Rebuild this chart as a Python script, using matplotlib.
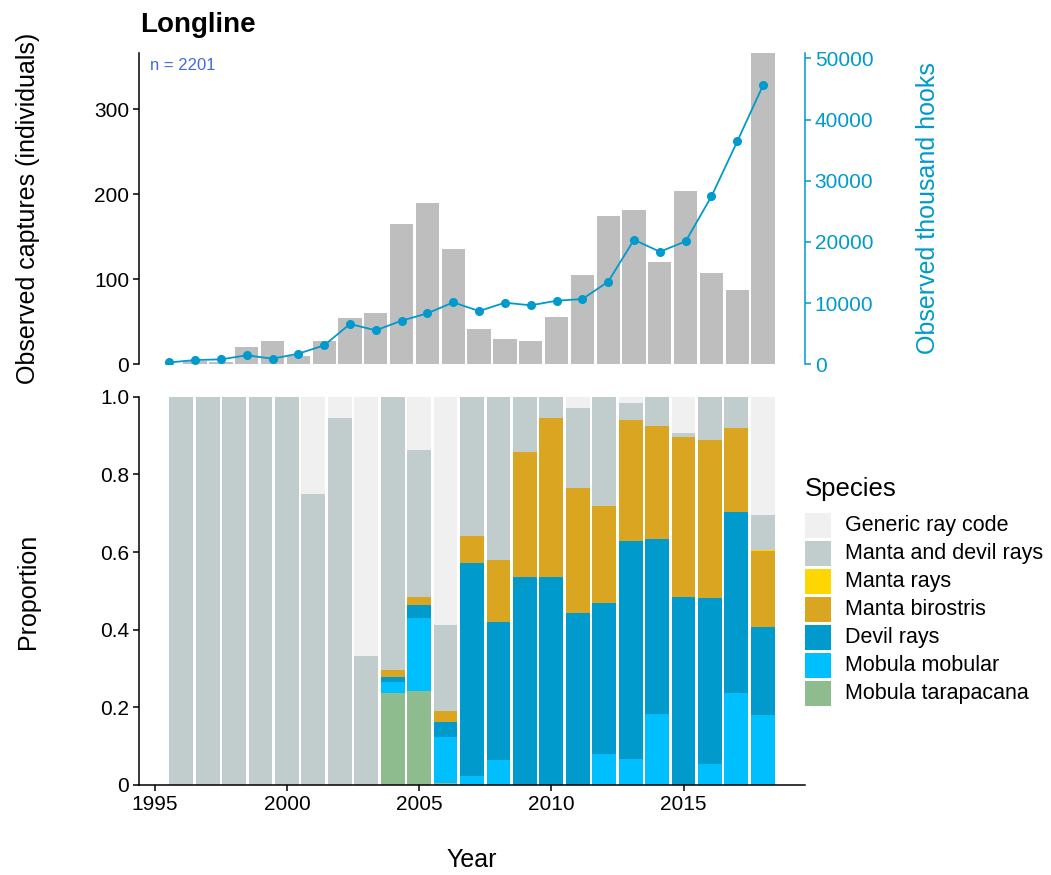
import numpy as np
import matplotlib
matplotlib.use('Agg')
import matplotlib.pyplot as plt
from matplotlib.patches import Rectangle

plt.rcParams['font.family'] = ['Liberation Sans', 'DejaVu Sans']

# top panel: captures and effort
effort_years = list(range(1995, 2019))
hooks = [300, 700, 800, 1470, 920, 1730, 3100, 6590, 5550, 7130, 8330, 10130,
         8700, 10070, 9640, 10390, 10670, 13500, 20360, 18400, 20100, 27450, 36440, 45640]
years = list(range(1996, 2019))
captures = [4, 3, 20, 28, 10, 28, 54, 60, 165, 190, 136, 42, 30, 28, 56, 105,
            175, 181, 120, 204, 108, 88, 366]

# bottom panel: proportions per species, years 1996-2018
species = ['Generic ray code', 'Manta and devil rays', 'Manta rays', 'Manta birostris',
           'Devil rays', 'Mobula mobular', 'Mobula tarapacana']
colors = ['#F0F0F0', '#C1CDCD', '#FFD700', '#DAA520', '#009ACD', '#00BFFF', '#8FBC8F']
p_tarapacana = [0, 0, 0, 0, 0, 0, 0, 0, 0.236, 0.242, 0.006, 0, 0, 0, 0, 0, 0, 0, 0, 0, 0, 0, 0]
p_mobular = [0, 0, 0, 0, 0, 0, 0, 0, 0.029, 0.189, 0.118, 0.023, 0.064, 0, 0, 0, 0.079,
             0.066, 0.183, 0, 0.055, 0.238, 0.180]
p_devil = [0, 0, 0, 0, 0, 0, 0, 0, 0.012, 0.032, 0.037, 0.548, 0.355, 0.536, 0.536, 0.443,
           0.390, 0.563, 0.450, 0.485, 0.426, 0.466, 0.227]
p_birostris = [0, 0, 0, 0, 0, 0, 0, 0, 0.019, 0.021, 0.030, 0.070, 0.160, 0.321, 0.409,
               0.321, 0.249, 0.310, 0.292, 0.412, 0.408, 0.216, 0.196]
p_manta = [0, 0, 0, 0, 0, 0, 0, 0, 0, 0, 0, 0, 0, 0, 0, 0, 0, 0, 0, 0, 0, 0, 0.003]
p_mantadevil = [1, 1, 1, 1, 1, 0.75, 0.944, 0.333, 0.704, 0.379, 0.220, 0.359, 0.421,
                0.143, 0.055, 0.207, 0.282, 0.044, 0.075, 0.009, 0.111, 0.080, 0.089]
p_generic = [0, 0, 0, 0, 0, 0.25, 0.056, 0.667, 0, 0.137, 0.589, 0, 0, 0, 0, 0.029,
             0, 0.017, 0, 0.094, 0, 0, 0.305]

hook_col = '#009ACD'
W, H = 1051, 875
fig = plt.figure(figsize=(W / 100, H / 100), dpi=100)

def box(l, t, r, b):
    return [l / W, 1 - b / H, (r - l) / W, (b - t) / H]

ax1 = fig.add_axes(box(139, 53.3, 805, 364.3))
ax2 = fig.add_axes(box(139, 396.7, 805, 785))

# top panel
ax1.bar(years, captures, width=0.9, color='#BEBEBE', zorder=2)
span = (max(years) + 0.45) - min(effort_years)
ax1.set_xlim(min(effort_years) - 0.05 * span, max(years) + 0.45 + 0.05 * span)
ax1.set_ylim(0, max(captures))
ax1.set_yticks([0, 100, 200, 300])
ax1.set_xticks([])
for s in ['top', 'right', 'bottom']:
    ax1.spines[s].set_visible(False)

tw = ax1.twinx()
tw.plot(effort_years, hooks, color=hook_col, lw=1.3, marker='o', ms=5.5)
tw.set_ylim(0, max(captures) * 50000 / 360)
tw.set_yticks(range(0, 50001, 10000))
for s in ['top', 'left', 'bottom']:
    tw.spines[s].set_visible(False)
tw.spines['right'].set_color(hook_col)
tw.spines['right'].set_linewidth(1.1)
tw.tick_params(axis='y', colors=hook_col, labelsize=15, length=4, width=1.1, pad=3)

# bottom panel
stack = [p_tarapacana, p_mobular, p_devil, p_birostris, p_manta, p_mantadevil, p_generic]
bottom = np.zeros(len(years))
for vals, col in zip(stack, colors[::-1]):
    ax2.bar(years, vals, bottom=bottom, width=0.9, color=col, zorder=2)
    bottom += np.array(vals)
span2 = (max(years) + 0.45) - (min(years) - 0.45)
ax2.set_xlim(min(years) - 0.45 - 0.05 * span2, max(years) + 0.45 + 0.05 * span2)
ax2.set_ylim(0, 1)
ax2.set_xticks([1995, 2000, 2005, 2010, 2015])
ax2.set_yticks([0, 0.2, 0.4, 0.6, 0.8, 1.0])
ax2.set_yticklabels(['0', '0.2', '0.4', '0.6', '0.8', '1.0'])
for s in ['top', 'right']:
    ax2.spines[s].set_visible(False)

for a in [ax1, ax2]:
    for s in ['left', 'bottom']:
        a.spines[s].set_linewidth(1.1)
    a.tick_params(labelsize=15, length=4, width=1.1, pad=3)

fig.text(140 / W, 1 - 25 / H, 'Longline', fontsize=20, fontweight='bold', va='center')
fig.text(150 / W, 1 - 65 / H, 'n = 2201', fontsize=12, color='#4169E1', va='center')
fig.text(28 / W, 1 - 208 / H, 'Observed captures (individuals)', fontsize=18,
         rotation=90, va='center', ha='center')
fig.text(28 / W, 1 - 591 / H, 'Proportion', fontsize=18, rotation=90, va='center', ha='center')
fig.text(928 / W, 1 - 208 / H, 'Observed thousand hooks', fontsize=18, rotation=90,
         va='center', ha='center', color=hook_col)
fig.text(472 / W, 1 - 860 / H, 'Year', fontsize=18, va='center', ha='center')

# legend drawn by hand in figure pixels
fig.text(805 / W, 1 - 489 / H, 'Species', fontsize=18.5, va='center', ha='left')
for i, (name, col) in enumerate(zip(species, colors)):
    top = 513.3 + i * 27.9
    fig.patches.append(Rectangle((805 / W, 1 - (top + 25) / H), 26 / W, 25 / H,
                                 facecolor=col, edgecolor='none',
                                 transform=fig.transFigure, figure=fig))
    fig.text(845 / W, 1 - (top + 12.5) / H, name, fontsize=15.5, va='center', ha='left')

fig.savefig('out.png', dpi=100)
